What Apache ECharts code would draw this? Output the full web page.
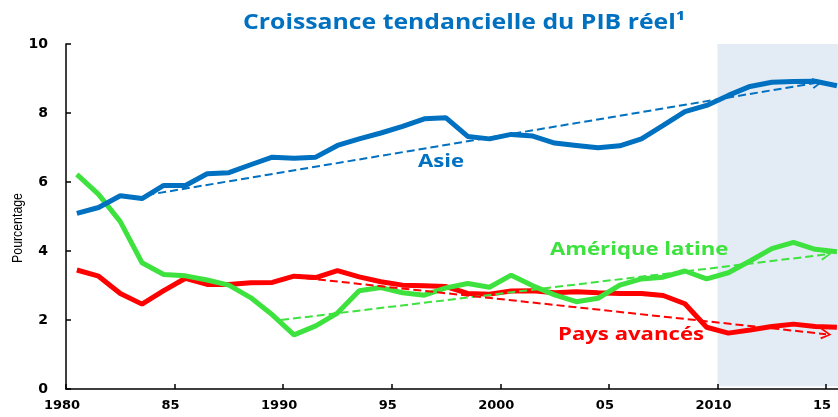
<!DOCTYPE html>
<html>
<head>
<meta charset="utf-8">
<title>Croissance tendancielle du PIB réel</title>
<script src="https://cdn.jsdelivr.net/npm/echarts@6/dist/echarts.min.js"></script>
</head>
<body style="margin:0">
<div id="container" style="width:838px;height:417px"></div>
<script>
// années (points tracés en milieu d'année)
var years = [1980,1981,1982,1983,1984,1985,1986,1987,1988,1989,1990,1991,1992,1993,1994,1995,1996,1997,
             1998,1999,2000,2001,2002,2003,2004,2005,2006,2007,2008,2009,2010,2011,2012,2013,2014,2015];

var asie = [5.09,5.26,5.60,5.52,5.90,5.90,6.24,6.27,6.50,6.72,6.69,6.72,7.06,7.25,7.42,7.61,7.83,7.86,
            7.32,7.25,7.38,7.33,7.13,7.06,6.99,7.05,7.25,7.64,8.04,8.22,8.51,8.77,8.89,8.91,8.92,8.79];
var ameriqueLatine = [6.22,5.64,4.85,3.66,3.32,3.28,3.16,3.01,2.65,2.15,1.57,1.83,2.20,2.85,2.94,2.79,2.72,2.93,
            3.06,2.95,3.30,2.99,2.73,2.53,2.63,3.01,3.19,3.24,3.42,3.19,3.37,3.71,4.07,4.25,4.05,3.98];
var paysAvances = [3.45,3.27,2.77,2.46,2.85,3.21,3.03,3.03,3.08,3.09,3.27,3.23,3.43,3.25,3.11,3.01,2.99,2.97,
            2.77,2.75,2.84,2.85,2.79,2.82,2.79,2.77,2.77,2.71,2.47,1.79,1.62,1.71,1.81,1.88,1.81,1.79];

// tendances : [début, fin]
var asieTrend = [[1983.7, 5.62], [2014.6, 8.88]];
var latTrend = [[1989.9, 2.0], [2015.0, 3.9]];
var avTrend = [[1990.5, 3.25], [2015.0, 1.59]];

var xLabels = {1980:'1980',1985:'85',1990:'1990',1995:'95',2000:'2000',2005:'05',2010:'2010',2015:'15'};

var BLUE = '#0070c0', GREEN = '#3ee23e', RED = '#ff0000';

function toPoints(vals) {
    var res = [];
    for (var i = 0; i < vals.length; i++) {
        res.push([years[i] + 0.5, vals[i]]);
    }
    return res;
}

// flèche ouverte (pointe vers le haut, tournée par echarts)
var arrowPath = 'path://M5,0 L10,8 L8.6,9 L5,2.6 L1.4,9 L0,8 Z';

function trendSeries(pts, color) {
    return {
        type: 'line',
        data: [],
        z: 1,
        markLine: {
            silent: true,
            symbol: ['none', arrowPath],
            symbolSize: [11, 11],
            label: {show: false},
            lineStyle: {color: color, width: 2, type: [8, 4]},
            data: [[{coord: pts[0]}, {coord: pts[1]}]]
        }
    };
}

// textes élargis comme dans l'original (image étirée en largeur)
function wideText(txt, x, y, color, size, sx) {
    return {
        type: 'text', x: x, y: y, scaleX: sx, z: 10,
        style: {text: txt, fill: color, font: 'bold ' + size + 'px "Open Sans"', verticalAlign: 'top'}
    };
}

var myChart = echarts.init(document.getElementById('container'));

var option = {
    backgroundColor: '#ffffff',
    animation: false,
    grid: {left: 66, right: 0, top: 44, bottom: 28},
    xAxis: {
        type: 'value',
        min: 1980,
        max: 2015.55,
        interval: 5,
        z: 5,
        splitLine: {show: false},
        axisLine: {lineStyle: {color: '#000', width: 1.5}},
        axisTick: {inside: true, length: 5, lineStyle: {color: '#000', width: 1.5}},
        axisLabel: {
            showMaxLabel: false,
            margin: 10,
            padding: [0, 8, 0, 0],
            color: '#000',
            fontSize: 13,
            fontWeight: 'bold',
            fontFamily: 'DejaVu Sans',
            formatter: function (v) { return xLabels[v] || ''; }
        }
    },
    yAxis: {
        type: 'value',
        min: 0,
        max: 10,
        interval: 2,
        z: 5,
        splitLine: {show: false},
        axisLine: {show: true, lineStyle: {color: '#000', width: 1.5}},
        axisTick: {show: true, inside: true, length: 5, lineStyle: {color: '#000', width: 1.5}},
        axisLabel: {margin: 18, color: '#000', fontSize: 14, fontWeight: 'bold', fontFamily: 'DejaVu Sans'}
    },
    graphic: [
        wideText('Croissance tendancielle du PIB réel¹', 243, 13, BLUE, 21, 1.18),
        wideText('Asie', 418, 153, BLUE, 18, 1.23),
        wideText('Amérique latine', 550, 241, GREEN, 18, 1.23),
        wideText('Pays avancés', 558, 326, RED, 18, 1.23),
        {
            type: 'text', x: 18, y: 228, rotation: Math.PI / 2, scaleX: 0.88, z: 10,
            style: {text: 'Pourcentage', fill: '#000', font: '14px "Liberation Sans"',
                    align: 'center', verticalAlign: 'middle'}
        }
    ],
    series: [
        {
            // zone de projection grisée
            type: 'line',
            data: [],
            z: 0,
            markArea: {
                silent: true,
                itemStyle: {color: '#e3ebf5'},
                data: [[{coord: [2010, 10]}, {coord: [2015.55, 0.08]}]]
            }
        },
        trendSeries(asieTrend, BLUE),
        trendSeries(latTrend, GREEN),
        trendSeries(avTrend, RED),
        {
            name: 'Pays avancés', type: 'line', z: 3, data: toPoints(paysAvances),
            symbol: 'none', lineStyle: {color: RED, width: 5}
        },
        {
            name: 'Amérique latine', type: 'line', z: 4, data: toPoints(ameriqueLatine),
            symbol: 'none', lineStyle: {color: GREEN, width: 5}
        },
        {
            name: 'Asie', type: 'line', z: 4, data: toPoints(asie),
            symbol: 'none', lineStyle: {color: BLUE, width: 5}
        }
    ]
};

myChart.setOption(option);
</script>
</body>
</html>
